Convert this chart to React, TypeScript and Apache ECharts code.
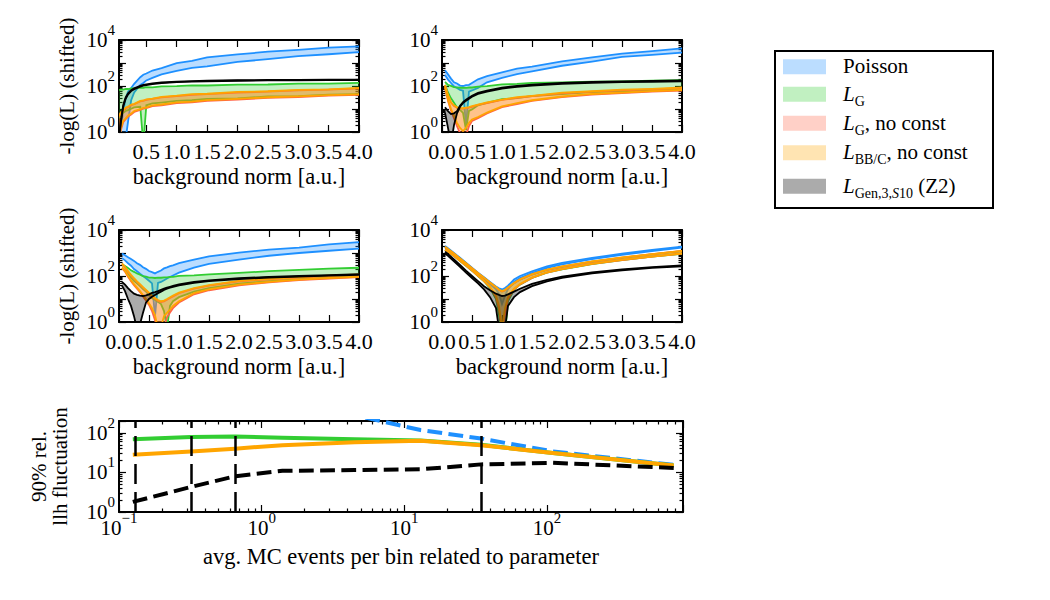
import React, { useEffect, useRef } from 'react';
import * as echarts from 'echarts';

const SERIF = 'Liberation Serif, DejaVu Serif, serif';

// ---------- background-norm scans: lower / upper envelope of -log(L) per likelihood ----------
// panel A (top left)
const xTL = [0.05, 0.08, 0.12, 0.16, 0.2, 0.25, 0.3, 0.4, 0.45, 0.5, 0.6, 0.75, 1.0, 1.25, 1.5, 2.0, 2.5, 3.0, 3.5, 4.0];
const poissonTL_lo = [0.3, 0.3, 0.3, 0.5, 3, 24, 52, 112, 135, 175, 225, 320, 450, 620, 720, 1120, 1460, 2000, 2400, 3000];
const poissonTL_hi = [0.3, 1.5, 8, 30, 58, 82, 125, 240, 310, 350, 470, 600, 980, 1240, 1750, 2350, 3100, 3700, 4700, 5300];
const gaussTL_lo = [4, 5.5, 6.8, 8.2, 9, 10.2, 11.8, 12.5, 0.3, 14.5, 17.5, 19, 22.5, 24, 27.5, 29, 35, 36, 42, 44];
const gaussTL_hi = [66, 71, 70, 75, 74, 79, 78, 85, 84, 89, 88, 96, 99, 106, 105, 115, 116, 126, 128, 136];
const gaussNcTL_lo = [0.3, 1.2, 2.7, 3.6, 4.7, 5.8, 7.4, 9.2, 10.3, 10.8, 13.2, 14.5, 18, 19.4, 22.8, 25.5, 30.5, 33, 38, 41];
const gaussNcTL_hi = [4.7, 6.8, 8.4, 10.8, 12.1, 14.6, 16.1, 21.3, 22.6, 25, 27.3, 32, 36.5, 41.5, 44, 52, 56.5, 64, 69, 79];
const bbcTL_lo = [0.3, 1.5, 3.1, 3.9, 5.2, 6.3, 8.2, 9.8, 11.2, 11.8, 14.3, 15.7, 19.4, 21, 24.5, 27.5, 32.5, 35.5, 40.5, 43.5];
const bbcTL_hi = [5, 7.2, 8.8, 11.5, 12.6, 15.5, 16.8, 22.5, 23.5, 26.5, 28.5, 34, 38, 44, 46, 55, 59, 68, 72, 83];
const genTL_lo = [0.4, 2.5, 13, 28, 43, 60, 73, 94, 104, 110, 121, 133, 146, 154, 161, 169, 174, 177, 180, 182];
const genTL_hi = [0.5, 3, 15, 32, 48, 66, 80, 102, 112, 118, 130, 142, 155, 163, 170, 178, 183, 186, 189, 191];

// panel B (top right)
const xTR = [0.05, 0.1, 0.15, 0.2, 0.25, 0.3, 0.35, 0.4, 0.45, 0.5, 0.6, 0.75, 1.0, 1.25, 1.5, 2.0, 2.5, 3.0, 3.5, 4.0];
const poissonTR_lo = [300, 190, 135, 96, 82, 68, 63, 2, 57, 64, 83, 145, 225, 330, 430, 760, 1150, 1850, 2250, 2850];
const poissonTR_hi = [480, 320, 210, 145, 128, 104, 100, 108, 112, 135, 195, 270, 390, 570, 700, 1180, 1750, 2550, 3250, 4300];
const gaussTR_lo = [110, 52, 29, 18.5, 11.5, 9.2, 6.8, 1.2, 8.3, 9.6, 14.5, 18.5, 26.5, 29.5, 36, 44, 54, 59, 67, 71];
const gaussTR_hi = [150, 112, 102, 90, 88, 84, 85, 83, 86, 86, 94, 99, 117, 123, 137, 144, 154, 158, 172, 178];
const gaussNcTR_lo = [85, 22, 8.5, 4, 1.8, 0.9, 0.5, 0.7, 1.8, 3, 4, 6.4, 12, 16.5, 22.5, 33, 42, 49, 57, 63];
const gaussNcTR_hi = [105, 38, 19, 13.3, 11.4, 10.5, 10.4, 10.9, 11.4, 12.4, 15.2, 18, 24.7, 30.4, 36, 47.5, 57, 64.6, 72, 81];
const bbcTR_lo = [90, 25, 10, 5, 2.5, 1.5, 1.1, 1.5, 2.5, 3.5, 4.5, 7, 13, 18, 24, 35, 45, 52, 60, 67];
const bbcTR_hi = [110, 41, 20, 14.5, 11.8, 11.2, 10.8, 11.6, 12.2, 13.5, 15.6, 19.5, 25.5, 32.5, 37.5, 51, 59, 69, 75, 86];
const genTR_lo = [7, 1.5, 0.3, 2, 6.5, 12.5, 18, 22.5, 28, 34, 45, 57, 77, 92, 104, 125, 138, 146, 153, 160];
const genTR_hi = [12, 8, 6, 6.5, 8, 14, 20, 25, 31, 38, 50, 63, 85, 102, 115, 138, 152, 160, 168, 175];

// panel C (middle left)
const xML = [0.05, 0.1, 0.15, 0.2, 0.25, 0.3, 0.35, 0.4, 0.45, 0.5, 0.55, 0.6, 0.65, 0.7, 0.75, 0.8, 0.85, 0.9, 1.0, 1.25, 1.5, 2.0, 2.5, 3.0, 3.5, 4.0];
const poissonML_lo = [600, 480, 360, 280, 200, 160, 125, 100, 80, 62, 48, 1.8, 50, 55, 65, 78, 90, 105, 140, 230, 340, 520, 760, 1000, 1250, 1550];
const poissonML_hi = [950, 790, 660, 550, 455, 360, 305, 240, 205, 165, 148, 130, 152, 172, 214, 236, 270, 290, 360, 510, 710, 1030, 1400, 1720, 2350, 2950];
const gaussML_lo = [220, 170, 120, 85, 62, 48, 36, 27, 21, 15, 11, 9, 7.5, 6, 3, 0.5, 5, 8, 12, 21, 30, 46, 60, 73, 86, 100];
const gaussML_hi = [330, 275, 225, 176, 152, 128, 114, 98, 93, 85, 85, 82, 85, 84, 87, 87, 91, 92, 101, 107, 118, 136, 162, 183, 210, 228];
const gaussNcML_lo = [220, 155, 92, 60, 40, 28, 20, 13, 8.5, 5.5, 3, 1.2, 0.4, 0.4, 0.6, 1.6, 2.6, 4, 7, 16, 24, 39, 53, 66, 78, 89];
const gaussNcML_hi = [340, 240, 155, 105, 76, 55, 42, 31, 23.5, 18, 13, 10.2, 8.3, 7.4, 7.8, 9.2, 11, 13, 17.8, 28, 38, 59, 72, 86, 99, 112];
const bbcML_lo = [230, 165, 100, 65, 44, 31, 22, 15, 10, 6.5, 4, 2, 0.5, 0.6, 1.8, 2.5, 3.5, 5, 8, 18, 26, 42, 56, 70, 82, 93];
const bbcML_hi = [350, 250, 165, 112, 80, 58, 44, 33, 25, 19, 14, 11, 9, 8, 8.5, 10, 12, 14, 19, 30, 40, 62, 76, 90, 104, 118];
const genML_lo = [38, 22, 10, 5, 1.8, 0.5, 0.8, 2.5, 7, 10, 12.5, 15, 18, 21, 25, 28, 31, 34, 39, 50, 60, 74, 86, 94, 103, 112];
const genML_hi = [55, 42, 30, 22, 17, 15, 14, 13.5, 14.5, 16, 18.5, 20, 22, 25, 28, 31, 34, 37, 43, 55, 65, 80, 92, 100, 110, 120];

// panel D (middle right)
const xMR = [0.05, 0.1, 0.2, 0.3, 0.4, 0.5, 0.6, 0.7, 0.8, 0.9, 0.95, 1.0, 1.05, 1.1, 1.2, 1.3, 1.5, 1.75, 2.0, 2.5, 3.0, 3.5, 4.0];
const poissonMR_lo = [1750, 1400, 880, 540, 330, 200, 120, 75, 45, 26, 17, 6, 14, 27, 55, 82, 135, 225, 320, 540, 830, 1200, 1700];
const poissonMR_hi = [2000, 1600, 1000, 620, 380, 230, 140, 88, 55, 35, 29, 26, 30, 38, 70, 100, 160, 260, 370, 610, 930, 1350, 1900];
const gaussMR_lo = [1380, 1120, 730, 450, 280, 170, 100, 58, 30, 10, 2, 0.3, 0.3, 8, 25, 42, 82, 140, 195, 330, 490, 690, 930];
const gaussMR_hi = [1800, 1450, 920, 560, 350, 215, 130, 82, 50, 32, 25, 21, 24, 31, 48, 70, 116, 184, 252, 417, 620, 870, 1210];
const gaussNcMR_lo = [1390, 1130, 740, 455, 285, 172, 102, 60, 32, 12, 3.5, 0.4, 2, 10, 26, 43, 83, 142, 197, 335, 495, 695, 940];
const gaussNcMR_hi = [1820, 1470, 930, 570, 355, 216, 132, 83, 51, 32, 25, 21, 24, 31, 49, 71, 118, 187, 256, 423, 630, 885, 1230];
const bbcMR_lo = [1400, 1150, 750, 460, 290, 175, 105, 62, 34, 14, 5, 0.5, 4, 12, 28, 45, 85, 145, 200, 340, 500, 700, 950];
const bbcMR_hi = [1850, 1500, 950, 580, 360, 220, 135, 85, 52, 33, 26, 22, 25, 32, 50, 72, 120, 190, 260, 430, 640, 900, 1250];
const genMR_lo = [950, 750, 430, 250, 140, 82, 48, 26, 12, 4, 0.5, 0.4, 0.5, 5, 12, 20, 36, 58, 82, 130, 178, 225, 260];
const genMR_hi = [1150, 900, 520, 300, 170, 100, 60, 36, 24, 17, 15, 13.5, 14, 16, 21, 28, 45, 68, 95, 145, 195, 245, 290];

const normTicks = [0, 0.5, 1, 1.5, 2, 2.5, 3, 3.5, 4];

// ---------- fluctuation vs. MC statistics ----------
const mcEvents = [0.125, 0.32, 0.65, 1.4, 4.5, 13, 34.5, 110, 775];
const fluctPoisson = [null, null, null, 700, 280, 118, 72, 34, 15.5];
const fluctGauss = [69, 79, 81, 75, 69, 64, 50, 31, 15];
const fluctBBC = [28, 34, 40, 49, 58, 63, 49, 31, 15];
const fluctGen = [1.8, 4.3, 8, 11, 11.5, 12, 16, 17.5, 13];
const scanMCEvents = [0.125, 0.32, 0.65, 34.5];

// ---------- likelihood variants (drawing order) ----------
const bandNames = ['Poisson', 'L_G', 'L_G, no const', 'L_BB/C, no const', 'L_Gen,3,S10 (Z2)'];
const bandEdge = ['#1E90FF', '#32CD32', '#FF6347', '#FFA500', '#000000'];
const bandFill = ['rgba(30,144,255,0.3)', 'rgba(50,205,50,0.3)', 'rgba(255,99,71,0.3)', 'rgba(255,165,0,0.3)', 'rgba(0,0,0,0.33)'];
const legendText: Record<string, string> = {
  'Poisson': '{t|Poisson}',
  'L_G': '{i|L}{s|G}',
  'L_G, no const': '{i|L}{s|G}{t|, no const}',
  'L_BB/C, no const': '{i|L}{s|BB/C}{t|, no const}',
  'L_Gen,3,S10 (Z2)': '{i|L}{s|Gen,3,}{si|S}{s|10}{t| (Z2)}',
};

const scans = [
  { xs: xTL, min: 0.05, bands: [[poissonTL_lo, poissonTL_hi], [gaussTL_lo, gaussTL_hi], [gaussNcTL_lo, gaussNcTL_hi], [bbcTL_lo, bbcTL_hi], [genTL_lo, genTL_hi]] },
  { xs: xTR, min: 0, bands: [[poissonTR_lo, poissonTR_hi], [gaussTR_lo, gaussTR_hi], [gaussNcTR_lo, gaussNcTR_hi], [bbcTR_lo, bbcTR_hi], [genTR_lo, genTR_hi]] },
  { xs: xML, min: 0, bands: [[poissonML_lo, poissonML_hi], [gaussML_lo, gaussML_hi], [gaussNcML_lo, gaussNcML_hi], [bbcML_lo, bbcML_hi], [genML_lo, genML_hi]] },
  { xs: xMR, min: 0, bands: [[poissonMR_lo, poissonMR_hi], [gaussMR_lo, gaussMR_hi], [gaussNcMR_lo, gaussNcMR_hi], [bbcMR_lo, bbcMR_hi], [genMR_lo, genMR_hi]] },
];

// ---------- layout ----------
const GRIDS = [
  { left: 119, top: 40, width: 240, height: 92 },
  { left: 442, top: 40, width: 240, height: 92 },
  { left: 119, top: 230, width: 240, height: 92 },
  { left: 442, top: 230, width: 240, height: 92 },
  { left: 119, top: 421, width: 564, height: 91 },
];
const LEGEND_ROWS = [55.7, 83.2, 112.2, 141.8, 175.2];

const FRAME = { show: true, onZero: false, lineStyle: { color: '#000', width: 2 } };
const TICK = { color: '#000', width: 1.2 };
const NAME_STYLE = { fontFamily: SERIF, fontSize: 22.5, color: '#000' };

const powRich = {
  b: { fontFamily: SERIF, fontSize: 21, lineHeight: 21, color: '#000', verticalAlign: 'bottom' },
  e: { fontFamily: SERIF, fontSize: 15, lineHeight: 15, color: '#000', verticalAlign: 'bottom', padding: [0, 0, 13, 0] },
};
// decade labels only; extent ends that are not powers of ten stay blank
const powFormatter = (v: number) => {
  const l = Math.log10(v);
  const n = Math.round(l);
  if (Math.abs(l - n) > 1e-6) return '';
  return `{b|10}{e|${n < 0 ? '\u2212' + -n : n}}`;
};

const legendRich = {
  t: { fontFamily: SERIF, fontSize: 21, lineHeight: 22, color: '#000', verticalAlign: 'top' },
  i: { fontFamily: SERIF, fontSize: 21, lineHeight: 22, color: '#000', fontStyle: 'italic', verticalAlign: 'top' },
  s: { fontFamily: SERIF, fontSize: 14, lineHeight: 14, color: '#000', verticalAlign: 'top', padding: [11, 0, 0, 0] },
  si: { fontFamily: SERIF, fontSize: 14, lineHeight: 14, color: '#000', fontStyle: 'italic', verticalAlign: 'top', padding: [11, 0, 0, 0] },
};

// Envelope band: filled polygon between lo and hi plus both edges
function bandSeries(p: number, k: number, xs: number[], lo: number[], hi: number[]) {
  const edge = bandEdge[k];
  const fill = bandFill[k];
  const floor = 0.2;
  return {
    type: 'custom',
    name: bandNames[k],
    xAxisIndex: 2 * p,
    yAxisIndex: 2 * p,
    clip: true,
    silent: true,
    itemStyle: { color: fill },
    data: xs.map((x, i) => [x, lo[i], hi[i]]),
    renderItem: (params: any, api: any) => {
      if (params.dataIndex !== 0) return null;
      const top = xs.map((x, i) => api.coord([x, Math.max(hi[i], floor)]));
      const bot = xs.map((x, i) => api.coord([x, Math.max(lo[i], floor)]));
      return {
        type: 'group',
        children: [
          { type: 'polygon', shape: { points: top.concat(bot.slice().reverse()) }, style: { fill, stroke: 'none' } },
          { type: 'polyline', shape: { points: bot }, style: { stroke: edge, lineWidth: 1.8, fill: 'none' } },
          { type: 'polyline', shape: { points: top }, style: { stroke: edge, lineWidth: 1.8, fill: 'none' } },
        ],
      };
    },
  };
}

function fluctSeries(name: string, vals: (number | null)[], color: string, dashed: boolean, extra: any = {}) {
  return {
    type: 'line',
    name,
    xAxisIndex: 8,
    yAxisIndex: 8,
    symbol: 'none',
    silent: true,
    clip: true,
    data: mcEvents.map((x, i) => [x, vals[i]]).filter((d) => d[1] != null),
    lineStyle: { color, width: 4, type: dashed ? [14.8, 6.4] : 'solid', cap: 'butt', join: 'round' },
    itemStyle: { color },
    ...extra,
  };
}

function logAxisBase(gridIndex: number, min: number, max: number) {
  return {
    type: 'log',
    logBase: 10,
    gridIndex,
    min,
    max,
    axisLine: FRAME,
    splitLine: { show: false },
    axisTick: { inside: true, length: 7, lineStyle: TICK },
    minorTick: { show: true, splitNumber: 9, length: 3.5, lineStyle: TICK },
  };
}

const powAxisLabel = (margin: number) => ({
  formatter: powFormatter,
  rich: powRich,
  margin,
  hideOverlap: false,
  showMinLabel: true,
  showMaxLabel: true,
});

function buildOption() {
  const xAxis: any[] = [];
  const yAxis: any[] = [];
  const series: any[] = [];

  scans.forEach((scan, p) => {
    const ticks = normTicks.filter((t) => t >= scan.min);
    const common = {
      type: 'value',
      gridIndex: p,
      min: scan.min,
      max: 4,
      axisLine: FRAME,
      splitLine: { show: false },
      axisTick: { inside: true, length: 7, lineStyle: TICK, customValues: ticks },
    };
    xAxis.push({
      ...common,
      position: 'bottom',
      axisLabel: {
        customValues: ticks,
        formatter: (v: number) => v.toFixed(1),
        margin: 8,
        fontFamily: SERIF,
        fontSize: 22,
        color: '#000',
        hideOverlap: false,
        showMinLabel: true,
        showMaxLabel: true,
      },
      name: 'background norm [a.u.]',
      nameLocation: 'middle',
      nameGap: 33,
      nameMoveOverlap: false,
      nameTextStyle: NAME_STYLE,
    });
    xAxis.push({ ...common, position: 'top', axisLabel: { show: false } });

    const yBase = logAxisBase(p, 1, 10000);
    yAxis.push({
      ...yBase,
      position: 'left',
      axisLabel: powAxisLabel(4),
      ...(p % 2 === 0
        ? {
            name: '-log(L) (shifted)',
            nameLocation: 'middle',
            nameRotate: 90,
            nameGap: 42,
            nameMoveOverlap: false,
            nameTextStyle: { fontFamily: SERIF, fontSize: 21, color: '#000' },
          }
        : {}),
    });
    yAxis.push({ ...yBase, position: 'right', axisLabel: { show: false } });

    scan.bands.forEach(([lo, hi], k) => series.push(bandSeries(p, k, scan.xs, lo, hi)));
  });

  // fluctuation panel
  const xb = logAxisBase(4, 0.1, 900);
  xAxis.push({
    ...xb,
    position: 'bottom',
    axisLabel: powAxisLabel(5),
    name: 'avg. MC events per bin related to parameter',
    nameLocation: 'middle',
    nameGap: 33,
    nameMoveOverlap: false,
    nameTextStyle: NAME_STYLE,
  });
  xAxis.push({ ...xb, position: 'top', axisLabel: { show: false } });
  const yb = logAxisBase(4, 1, 200);
  yAxis.push({
    ...yb,
    position: 'left',
    axisLabel: powAxisLabel(4),
    name: '90% rel.\nllh fluctuation',
    nameLocation: 'middle',
    nameRotate: 90,
    nameGap: 49,
    nameMoveOverlap: false,
    nameTextStyle: { fontFamily: SERIF, fontSize: 21, lineHeight: 21, color: '#000', align: 'center' },
  });
  yAxis.push({ ...yb, position: 'right', axisLabel: { show: false } });

  series.push(fluctSeries('Poisson fluctuation', fluctPoisson, bandEdge[0], true));
  series.push(fluctSeries('L_G fluctuation', fluctGauss, bandEdge[1], false));
  series.push(fluctSeries('L_BB/C fluctuation', fluctBBC, bandEdge[3], false));
  series.push(
    fluctSeries('L_Gen fluctuation', fluctGen, '#000', true, {
      markLine: {
        silent: true,
        symbol: ['none', 'none'],
        label: { show: false },
        lineStyle: { color: '#000', width: 2.5, type: [20, 8] },
        data: scanMCEvents.map((x) => ({ xAxis: x })),
      },
    })
  );

  return {
    animation: false,
    backgroundColor: '#fff',
    textStyle: { fontFamily: SERIF },
    grid: GRIDS.map((g) => ({ ...g, containLabel: false, outerBoundsMode: 'none' })),
    xAxis,
    yAxis,
    legend: bandNames.map((name, i) => ({
      left: 783,
      top: LEGEND_ROWS[i],
      orient: 'vertical',
      padding: 0,
      data: [name],
      icon: 'rect',
      itemWidth: 43,
      itemHeight: 15,
      selectedMode: false,
      itemStyle: { borderWidth: 0 },
      formatter: (n: string) => legendText[n],
      textStyle: { fontFamily: SERIF, fontSize: 21, color: '#000', padding: [0, 0, 0, 12], rich: legendRich },
    })),
    graphic: [
      {
        type: 'rect',
        shape: { x: 775, y: 51, width: 218, height: 157 },
        style: { fill: 'none', stroke: '#000', lineWidth: 2 },
        silent: true,
      },
    ],
    series,
  };
}

export default function App() {
  const ref = useRef<HTMLDivElement>(null);
  useEffect(() => {
    const chart = echarts.init(ref.current as HTMLDivElement, null, { renderer: 'svg' });
    chart.setOption(buildOption() as any);
    return () => chart.dispose();
  }, []);
  return (
    <div
      ref={ref}
      style={{ position: 'fixed', left: 0, top: 0, width: 1050, height: 600, background: '#fff' }}
    />
  );
}
